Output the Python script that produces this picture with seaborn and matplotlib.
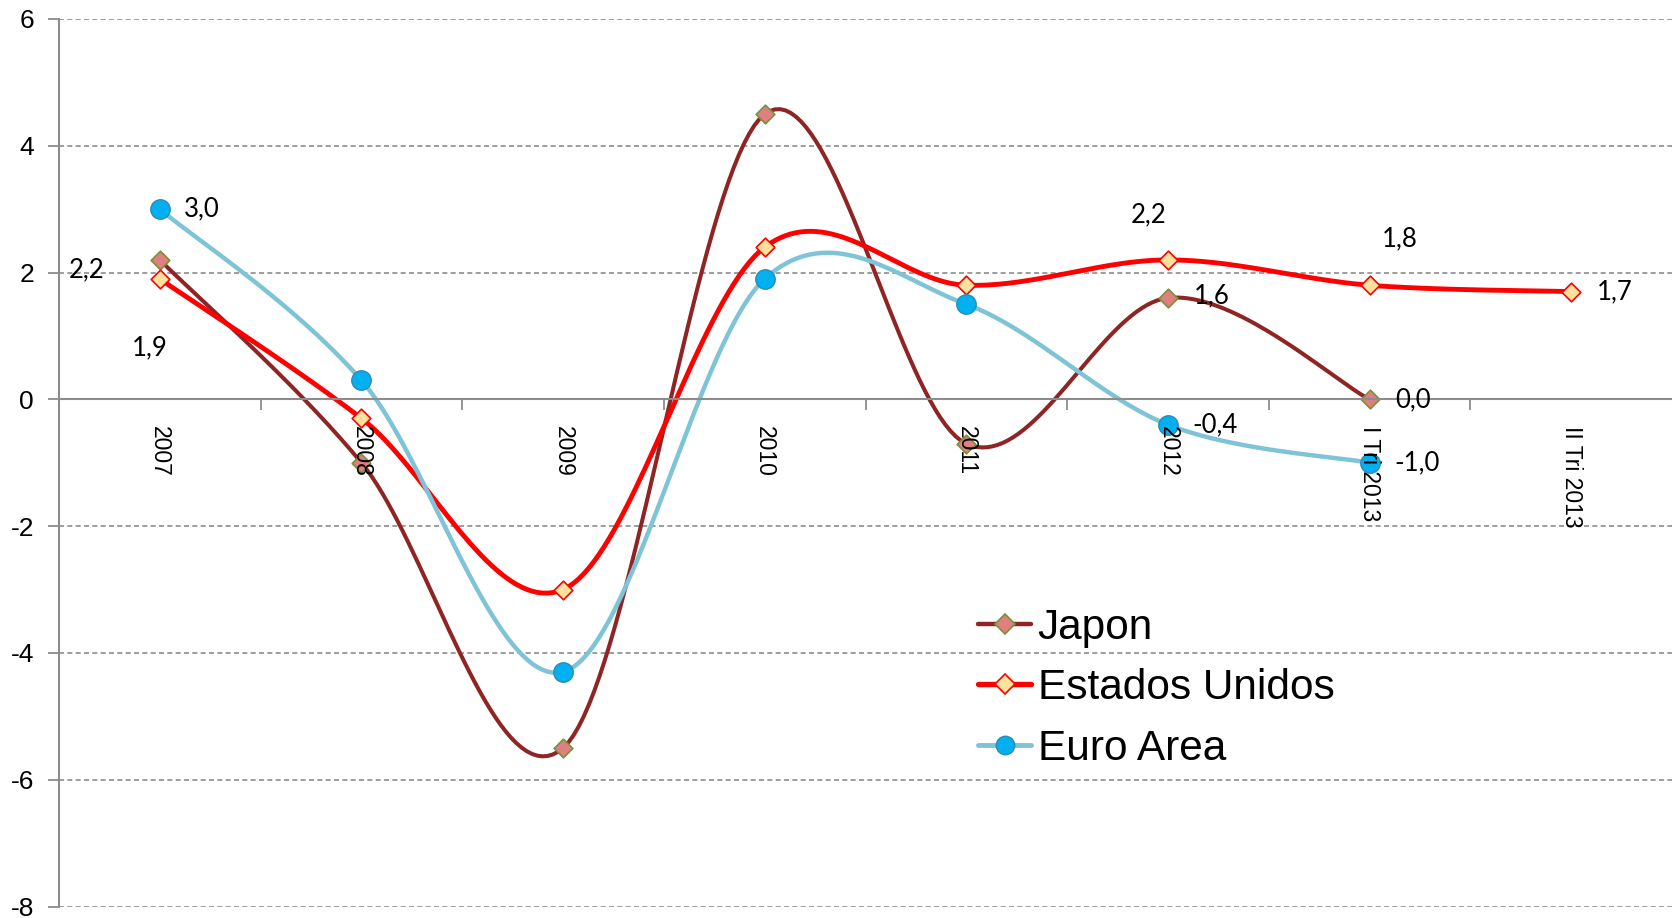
import numpy as np
import pandas as pd
import matplotlib
matplotlib.use("Agg")
import matplotlib.pyplot as plt
from matplotlib.lines import Line2D
import seaborn as sns

# ---------------- data ----------------
categories = ["2007", "2008", "2009", "2010", "2011", "2012", "I Tri 2013", "II Tri 2013"]
japon = [2.2, -1.0, -5.5, 4.5, -0.7, 1.6, 0.0, np.nan]
estados_unidos = [1.9, -0.3, -3.0, 2.4, 1.8, 2.2, 1.8, 1.7]
euro_area = [3.0, 0.3, -4.3, 1.9, 1.5, -0.4, -1.0, np.nan]
series_names = ["Japon", "Estados Unidos", "Euro Area"]
y_ticks = [-8, -6, -4, -2, 0, 2, 4, 6]

# ---------------- style ----------------
sns.set_theme(style="white")
plt.rcParams["font.family"] = ["Liberation Sans", "DejaVu Sans"]
plt.rcParams["text.color"] = "black"
plt.rcParams["xtick.color"] = "black"
plt.rcParams["ytick.color"] = "black"
plt.rcParams["axes.labelcolor"] = "black"

styles = {
    "Japon": dict(line="#8E2424", lw=2.9, marker="D", ms=9.5, fc="#E07F7F", ec="#76923C", mew=1.2),
    "Estados Unidos": dict(line="#FF0000", lw=3.5, marker="D", ms=9.5, fc="#FFE09C", ec="#FF0000", mew=1.2),
    "Euro Area": dict(line="#7FC4D6", lw=3.2, marker="o", ms=14.0, fc="#00B0F0", ec="#2A8DB8", mew=1.0),
}

# label offsets (in pixels at dpi 100): (series, category index) -> (dx, dy, ha)
label_pos = {
    ("Japon", 0): (-55, -10, "right"),
    ("Estados Unidos", 0): (-10, -69, "center"),
    ("Euro Area", 0): (24, 0, "left"),
    ("Japon", 5): (26, 2, "left"),
    ("Japon", 6): (26, 0, "left"),
    ("Estados Unidos", 5): (-19, 45, "center"),
    ("Estados Unidos", 6): (30, 46, "center"),
    ("Estados Unidos", 7): (26, 0, "left"),
    ("Euro Area", 5): (24, 0, "left"),
    ("Euro Area", 6): (25, 0, "left"),
}


def smooth(xs, ys, n=40):
    """Excel-like smoothed line: Catmull-Rom Bezier through the points."""
    pts = np.column_stack([xs, ys])
    out = []
    m = len(pts)
    for i in range(m - 1):
        p0 = pts[i - 1] if i > 0 else pts[i]
        p1 = pts[i]
        p2 = pts[i + 1]
        p3 = pts[i + 2] if i + 2 < m else pts[i + 1]
        c1 = p1 + (p2 - p0) / 6.0
        c2 = p2 - (p3 - p1) / 6.0
        t = np.linspace(0, 1, n)[:, None]
        seg = ((1 - t) ** 3) * p1 + 3 * ((1 - t) ** 2) * t * c1 + 3 * (1 - t) * t ** 2 * c2 + t ** 3 * p2
        if i > 0:
            seg = seg[1:]
        out.append(seg)
    out = np.vstack(out)
    return out[:, 0], out[:, 1]


W, H = 1672, 918
fig = plt.figure(figsize=(W / 100, H / 100), dpi=100)
fig.patch.set_facecolor("white")
ax = fig.add_axes([59 / W, (H - 906.5) / H, (W - 59) / W, (906.5 - 19) / H])
ax.set_facecolor("white")

data = {"Japon": japon, "Estados Unidos": estados_unidos, "Euro Area": euro_area}
xpos = np.arange(len(categories))

for k, name in enumerate(series_names):
    st = styles[name]
    vals = np.array(data[name], dtype=float)
    ok = ~np.isnan(vals)
    sx, sy = smooth(xpos[ok].astype(float), vals[ok])
    curve = pd.DataFrame({"x": sx, "y": sy})
    sns.lineplot(data=curve, x="x", y="y", sort=False, estimator=None, color=st["line"],
                 lw=st["lw"], ax=ax, zorder=2.0 + 0.1 * k, solid_capstyle="round")
    pts = pd.DataFrame({"x": xpos[ok], "y": vals[ok]})
    sns.scatterplot(data=pts, x="x", y="y", marker=st["marker"], s=st["ms"] ** 2,
                    color=st["fc"], edgecolor=st["ec"], linewidth=st["mew"], ax=ax,
                    zorder=2.05 + 0.1 * k, legend=False)

# data labels
for (name, i), (dx, dy, ha) in label_pos.items():
    v = data[name][i]
    ax.annotate(f"{v:.1f}".replace(".", ","), xy=(i, v), xytext=(dx * 0.72, dy * 0.72),
                textcoords="offset points", ha=ha, va="center", fontsize=18.5,
                family=["Lato", "DejaVu Sans"], color="black", zorder=4)

# axes
ax.set_xlim(-0.5, len(categories) - 0.5)
ax.set_ylim(-8, 6)
ax.set_xlabel("")
ax.set_ylabel("")
ax.set_axisbelow(False)
for yv in y_ticks:
    ax.axhline(yv, color="#8C8C8C", lw=1.2, ls=(0, (3, 2)), zorder=0.5)

ax.set_yticks(y_ticks)
ax.set_yticklabels([str(v) for v in y_ticks])
ax.tick_params(axis="y", which="major", direction="out", length=8, width=1.3, color="#8C8C8C",
               labelsize=19, pad=10, labelcolor="black", left=True)

ax.set_xticks(np.arange(0.5, len(categories) - 0.5, 1.0))
ax.set_xticklabels([])
ax.set_xticks(xpos, minor=True)
ax.set_xticklabels(categories, minor=True)
ax.tick_params(axis="x", which="major", direction="out", length=8, width=1.3, color="#8C8C8C", bottom=True)
ax.tick_params(axis="x", which="minor", length=0, pad=19, labelcolor="black", bottom=True,
               labelrotation=270, labelsize=16.5)
for lab in ax.get_xticklabels(minor=True):
    lab.set_rotation(270)
    lab.set_fontsize(16.5)
    lab.set_va("top")
    lab.set_ha("center")

ax.spines["top"].set_visible(False)
ax.spines["right"].set_visible(False)
ax.spines["bottom"].set_position(("data", 0))
for sp in ("left", "bottom"):
    ax.spines[sp].set_color("#8C8C8C")
    ax.spines[sp].set_linewidth(1.5)

# legend
handles = []
for name in series_names:
    st = styles[name]
    handles.append(Line2D([0], [0], color=st["line"], lw=st["lw"] * 1.1, marker=st["marker"],
                          markersize=st["ms"] * (1.05 if st["marker"] == "D" else 0.95),
                          markerfacecolor=st["fc"], markeredgecolor=st["ec"], markeredgewidth=st["mew"]))
leg = ax.legend(handles, series_names, loc="center left", bbox_to_anchor=(0.570, 0.246),
                frameon=False, fontsize=30.5, handlelength=1.25, handletextpad=0.15,
                labelspacing=0.48, borderpad=0, borderaxespad=0, labelcolor="black")
leg.set_zorder(5)

fig.savefig("out.png", dpi=100, facecolor="white")
